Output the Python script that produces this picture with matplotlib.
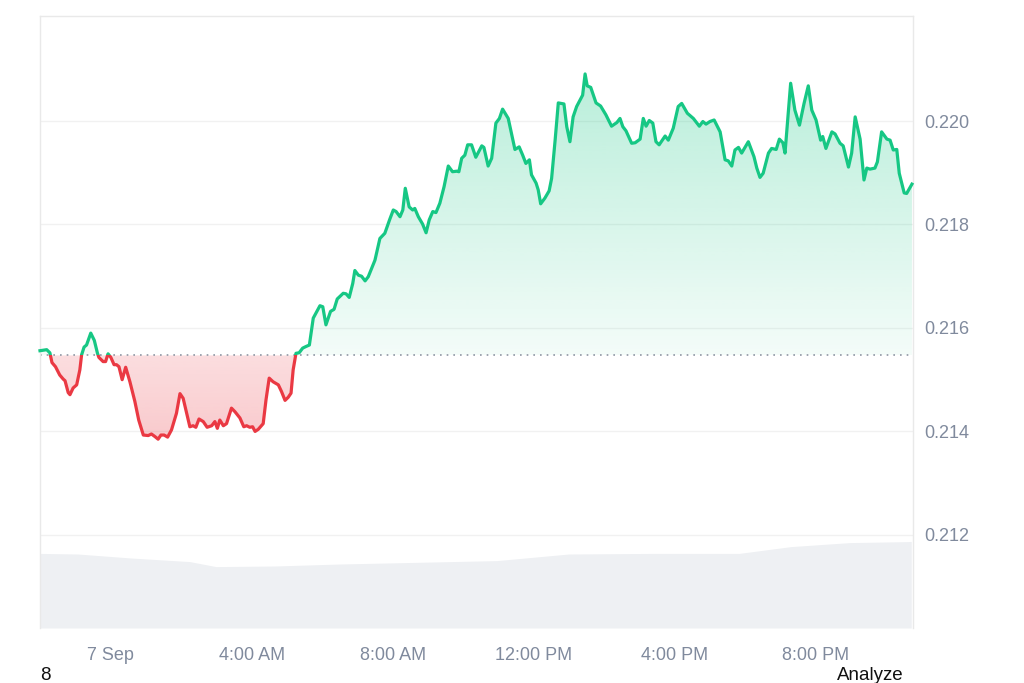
import numpy as np
import matplotlib
matplotlib.use("Agg")
from matplotlib import pyplot as plt
from matplotlib import colors as mcolors
from matplotlib.path import Path
from matplotlib.patches import Rectangle

plt.rcParams['font.family'] = ['Liberation Sans', 'DejaVu Sans']

# hours relative to 00:00, 7 Sep
times = [
    -2.01, -1.82, -1.73, -1.67, -1.57, -1.45, -1.35, -1.30, -1.21, -1.16,
    -1.07, -0.97, -0.88, -0.83, -0.76, -0.69, -0.57, -0.47, -0.38, -0.34,
    -0.22, -0.15, -0.08, 0.00, 0.09, 0.16, 0.23, 0.32, 0.42, 0.54,
    0.68, 0.79, 0.92, 1.06, 1.15, 1.25, 1.34, 1.42, 1.51, 1.61,
    1.72, 1.86, 1.96, 2.05,
    2.15, 2.24, 2.33, 2.41, 2.50, 2.62, 2.73, 2.86, 2.95, 3.02,
    3.09, 3.19, 3.28, 3.42, 3.52, 3.66, 3.77, 3.85, 3.94, 4.02,
    4.09, 4.18, 4.32, 4.40, 4.49, 4.60, 4.75, 4.84, 4.94, 5.03,
    5.11, 5.17, 5.25, 5.34, 5.44, 5.53, 5.63, 5.69, 5.74,
    5.93, 6.01, 6.10, 6.23, 6.33, 6.42, 6.59, 6.67, 6.76, 6.86,
    6.92, 7.02, 7.11, 7.21, 7.30, 7.49, 7.63, 7.77, 7.91, 8.01,
    8.09, 8.20, 8.28, 8.35, 8.46, 8.56, 8.62, 8.72, 8.84, 8.94,
    9.03, 9.13, 9.22, 9.33, 9.45, 9.57, 9.69, 9.81, 9.87, 9.95,
    10.04, 10.12, 10.23, 10.35, 10.52, 10.58, 10.70, 10.80, 10.92, 11.02,
    11.11, 11.27, 11.34, 11.46, 11.58, 11.68, 11.77, 11.87, 11.93, 12.06,
    12.12, 12.19, 12.31, 12.43, 12.50, 12.60, 12.69, 12.85, 12.93, 13.02,
    13.11, 13.21, 13.32, 13.38, 13.45, 13.51, 13.61, 13.76, 13.89, 14.04,
    14.20, 14.35, 14.44, 14.52, 14.61, 14.77, 14.87, 15.01, 15.10, 15.18,
    15.27, 15.37, 15.46, 15.55, 15.72, 15.81, 15.95, 16.09, 16.19, 16.35,
    16.52, 16.69, 16.79, 16.88, 16.99, 17.11, 17.28, 17.42, 17.51, 17.61,
    17.70, 17.80, 17.89, 18.08, 18.24, 18.32, 18.41, 18.50, 18.65, 18.74,
    18.87, 18.96, 19.06, 19.12, 19.28, 19.40, 19.53, 19.66, 19.78, 19.88,
    20.00, 20.13, 20.19, 20.28, 20.45, 20.54, 20.68, 20.77, 20.92, 21.01,
    21.11, 21.25, 21.36, 21.44, 21.53, 21.67, 21.74, 21.86, 22.01, 22.10,
    22.19, 22.29, 22.36, 22.50, 22.57, 22.72,
]

prices = [
    0.21556, 0.21558, 0.21552, 0.21533, 0.21525, 0.21509, 0.21501, 0.21498, 0.21475, 0.21471,
    0.21484, 0.21490, 0.21519, 0.21548, 0.21563, 0.21567, 0.21590, 0.21576, 0.21551, 0.21543,
    0.21535, 0.21535, 0.21550, 0.21543, 0.21529, 0.21529, 0.21525, 0.21500, 0.21524, 0.21496,
    0.21458, 0.21422, 0.21393, 0.21392, 0.21395, 0.21390, 0.21385, 0.21393, 0.21393, 0.21389,
    0.21403, 0.21435, 0.21473, 0.21464,
    0.21435, 0.21409, 0.21411, 0.21408, 0.21424, 0.21419, 0.21408, 0.21411, 0.21419, 0.21406,
    0.21422, 0.21411, 0.21415, 0.21445, 0.21438, 0.21426, 0.21409, 0.21411, 0.21408, 0.21409,
    0.21400, 0.21404, 0.21415, 0.21461, 0.21503, 0.21496, 0.21490, 0.21477, 0.21460, 0.21466,
    0.21474, 0.21519, 0.21551, 0.21552, 0.21561, 0.21564, 0.21567, 0.21596, 0.21619,
    0.21643, 0.21641, 0.21606, 0.21632, 0.21636, 0.21656, 0.21667, 0.21666, 0.21659, 0.21686,
    0.21711, 0.21702, 0.21700, 0.21691, 0.21699, 0.21731, 0.21773, 0.21783, 0.21810, 0.21828,
    0.21825, 0.21815, 0.21828, 0.21870, 0.21834, 0.21828, 0.21831, 0.21815, 0.21801, 0.21784,
    0.21809, 0.21825, 0.21823, 0.21841, 0.21873, 0.21913, 0.21902, 0.21903, 0.21902, 0.21928,
    0.21934, 0.21954, 0.21954, 0.21930, 0.21952, 0.21949, 0.21913, 0.21928, 0.21996, 0.22005,
    0.22023, 0.22005, 0.21983, 0.21945, 0.21950, 0.21934, 0.21918, 0.21925, 0.21896, 0.21880,
    0.21867, 0.21840, 0.21851, 0.21865, 0.21889, 0.21963, 0.22035, 0.22033, 0.21989, 0.21960,
    0.22008, 0.22028, 0.22042, 0.22050, 0.22091, 0.22068, 0.22065, 0.22035, 0.22029, 0.22012,
    0.21990, 0.21997, 0.22005, 0.21989, 0.21981, 0.21957, 0.21958, 0.21965, 0.22005, 0.21990,
    0.22001, 0.21996, 0.21960, 0.21954, 0.21971, 0.21963, 0.21986, 0.22028, 0.22034, 0.22015,
    0.22005, 0.21990, 0.21999, 0.21994, 0.21999, 0.22002, 0.21979, 0.21925, 0.21923, 0.21913,
    0.21944, 0.21949, 0.21938, 0.21960, 0.21931, 0.21909, 0.21891, 0.21899, 0.21938, 0.21947,
    0.21945, 0.21965, 0.21958, 0.21938, 0.22073, 0.22021, 0.21992, 0.22034, 0.22068, 0.22021,
    0.22002, 0.21963, 0.21970, 0.21947, 0.21979, 0.21975, 0.21957, 0.21952, 0.21911, 0.21938,
    0.22008, 0.21965, 0.21886, 0.21909, 0.21907, 0.21909, 0.21921, 0.21979, 0.21965, 0.21963,
    0.21944, 0.21945, 0.21899, 0.21861, 0.21860, 0.21878,
]

open_price = 0.21547

# volume profile (millions, rough)
vol_times = [-2.01, -0.94, 0.57, 2.24, 2.98, 4.65, 6.50, 8.34, 10.95, 12.99,
             15.40, 17.82, 19.29, 20.96, 22.61, 22.70]
volumes = [37.3, 37.0, 35.0, 33.2, 30.7, 31.0, 32.0, 32.7, 33.7, 37.0,
           37.3, 37.3, 40.7, 42.7, 43.2, 43.3]

tick_hours = [0, 4, 8, 12, 16, 20]
tick_labels = ['7 Sep', '4:00 AM', '8:00 AM', '12:00 PM', '4:00 PM', '8:00 PM']
price_ticks = [0.212, 0.214, 0.216, 0.218, 0.220]

GREEN = '#16c784'
RED = '#ea3943'
GREY_TXT = '#808a9d'

t = np.array(times)
p = np.array(prices)
x_lo, x_hi = -2.01, 22.75
y_lo, y_hi = 0.21020, 0.22203


def gradient_under(ax, poly, color, y0, y1, a0, a1):
    rgba = np.zeros((256, 1, 4))
    rgba[..., :3] = mcolors.to_rgb(color)
    rgba[:, 0, 3] = np.linspace(a0, a1, 256)
    im = ax.imshow(rgba, extent=[x_lo, x_hi, y0, y1], origin='lower',
                   aspect='auto', zorder=1, interpolation='bilinear')
    path = Path.make_compound_path(*poly.get_paths())
    im.set_clip_path(path, transform=ax.transData)


fig = plt.figure(figsize=(10.24, 6.83), dpi=100)
rect = [40 / 1024, 55 / 683, 873 / 1024, 612 / 683]

# volume underneath
ax_v = fig.add_axes(rect)
ax_v.fill_between(vol_times, 0, volumes, color='#eef0f3', lw=0)
ax_v.set_xlim(x_lo, x_hi)
ax_v.set_ylim(0, 306)
ax_v.axis('off')

ax = fig.add_axes(rect)
ax.patch.set_visible(False)

up = ax.fill_between(t, open_price, p, where=p >= open_price, interpolate=True,
                     color='none', lw=0)
down = ax.fill_between(t, open_price, p, where=p <= open_price, interpolate=True,
                       color='none', lw=0)
gradient_under(ax, up, GREEN, open_price, p.max(), 0.05, 0.30)
gradient_under(ax, down, RED, p.min(), open_price, 0.27, 0.17)

ax.axhline(open_price, color='#8f96a3', lw=1.2, linestyle=(0, (1, 3)), zorder=2)

line_up, = ax.plot(t, p, color=GREEN, lw=2.3, zorder=3, solid_joinstyle='round')
line_dn, = ax.plot(t, p, color=RED, lw=2.3, zorder=3, solid_joinstyle='round')
clip_up = Rectangle((x_lo - 1, open_price), 30, 1, transform=ax.transData)
clip_dn = Rectangle((x_lo - 1, open_price - 1), 30, 1, transform=ax.transData)
line_up.set_clip_path(clip_up)
line_dn.set_clip_path(clip_dn)

ax.set_xlim(x_lo, x_hi)
ax.set_ylim(y_lo, y_hi)

ax.yaxis.tick_right()
ax.set_yticks(price_ticks)
ax.set_yticklabels([f'{v:.3f}' for v in price_ticks])
ax.set_xticks(tick_hours)
ax.set_xticklabels(tick_labels)
ax.tick_params(axis='y', length=0, pad=8, labelsize=13, labelcolor=GREY_TXT)
ax.tick_params(axis='x', length=0, pad=14, labelsize=13, labelcolor=GREY_TXT)
ax.grid(axis='y', color='#f1f1f1', lw=1)
ax.set_axisbelow(True)

for side in ['top', 'left', 'right']:
    ax.spines[side].set_color('#e9e9e9')
    ax.spines[side].set_linewidth(1)
ax.spines['bottom'].set_visible(False)

fig.text(40 / 1024, 1 - 675 / 683, '8', fontsize=13.5, color='#111111', va='center')
fig.text(904 / 1024, 1 - 675 / 683, 'Analyze', fontsize=13.5, color='#111111',
         va='center', ha='right')

fig.savefig('out.png', dpi=100)
